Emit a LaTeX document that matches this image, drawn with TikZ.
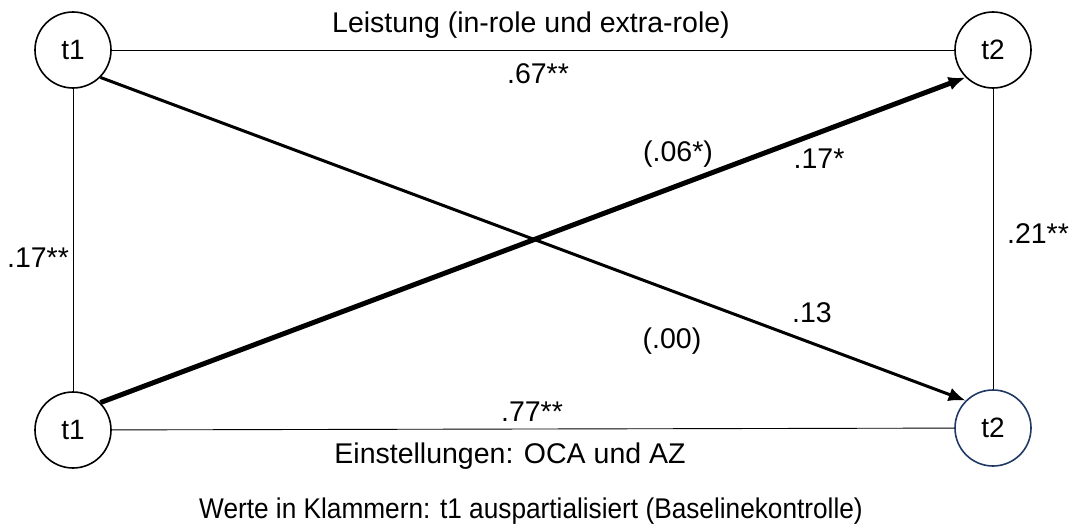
\documentclass[tikz,border=0pt]{standalone}
\usepackage{fontspec}
\setmainfont{Liberation Sans}
\usepackage{tikz}
\usetikzlibrary{arrows.meta,calc,positioning}
\definecolor{darkblue}{RGB}{31,56,100}

\begin{document}
\begin{tikzpicture}[x=1pt,y=-1pt,
            zeit/.style={circle,draw,line width=1.6pt,minimum size=76pt,inner sep=0pt,font=\fontsize{28}{33}\selectfont},
            wert/.style={anchor=base,inner sep=0pt,font=\fontsize{28.5}{34}\selectfont},
            duenn/.style={line width=0.9pt},
            pfeil/.style={-{Latex[length=17pt,width=14pt]}}]
            \useasboundingbox (0,0) rectangle (1076,527);
            %Nodes
            \node[zeit] (l1) at (73,50) {t1};
            \node[zeit] (l2) at (993,50) {t2};
            \node[zeit] (e1) at (73,430) {t1};
            \node[zeit,draw=darkblue] (e2) at (993,428) {t2};
            %Edges
            \draw[duenn] (l1) -- (l2);
            \draw[duenn] (e1) -- (e2);
            \draw[duenn] (l1) -- (e1);
            \draw[duenn] (l2) -- (e2);
            \draw[pfeil,line width=3pt] (l1.south east) -- (e2.north west);
            \draw[pfeil,line width=5pt] (e1.north east) -- (l2.south west);
            %Labels
            \node[wert] (leist) at (531,33) {Leistung (in-role und extra-role)};
            \node[wert] (w67) at (538,84) {.67**};
            \node[wert] (w06) at (678,161) {(.06*)};
            \node[wert] (w17a) at (819,168) {.17*};
            \node[wert] (w21) at (1038,243) {.21**};
            \node[wert] (w17b) at (38,267) {.17**};
            \node[wert] (w13) at (812,322) {.13};
            \node[wert] (w00) at (672,348) {(.00)};
            \node[wert] (w77) at (532,421) {.77**};
            \node[wert] (einst) at (510,463) {Einstellungen: OCA und AZ};
            \node[wert,xscale=0.92] (werte) at (531,518) {Werte in Klammern: t1 auspartialisiert (Baselinekontrolle)};
        \end{tikzpicture}
\end{document}
